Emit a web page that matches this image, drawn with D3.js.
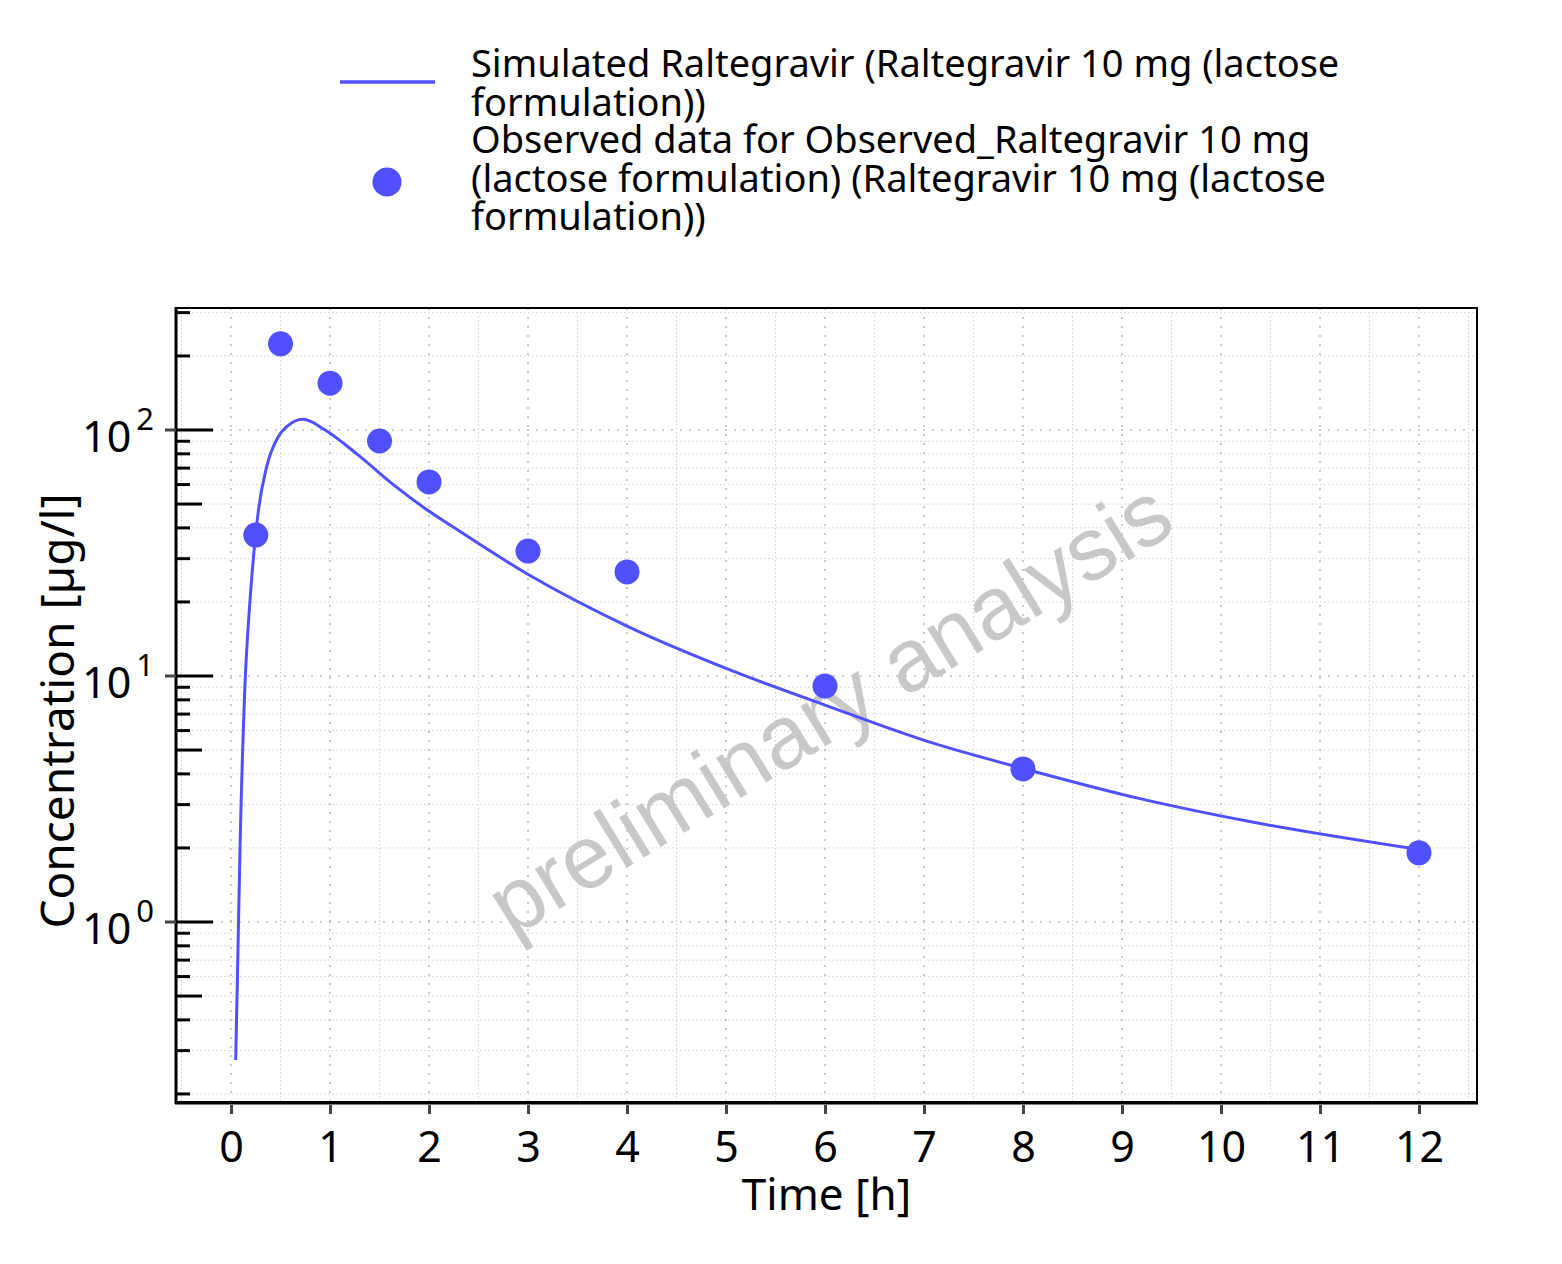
<!DOCTYPE html>
<html><head><meta charset="utf-8">
<script src="https://cdn.jsdelivr.net/npm/d3@7"></script>
<style>body{margin:0;background:#fff} text{font-family:"Noto Sans",sans-serif}</style>
</head><body>
<svg id="c" width="1562" height="1264"></svg>
<script>
// Simulated curve
const simTime = [0.047,0.064,0.091,0.14,0.192,0.25,0.276,0.36,0.478,0.6,0.73,0.95,1.286,1.623,1.96,2.212,2.985,4.016,5.046,6.0,7.1,7.99,9.17,10.29,12];
const simConc = [0.275,0.58,2.02,9,20.4,38,47,71,94,106,110.5,100,79,60.7,48,41.1,26.1,15.85,10.57,7.62,5.32,4.22,3.18,2.56,1.97];
// Observed data
const obsTime = [0.25,0.5,1,1.5,2,3,4,6,8,12];
const obsConc = [37.4,224,155,90.2,61.5,32.2,26.5,9.1,4.19,1.91];
const xTicks = [0,1,2,3,4,5,6,7,8,9,10,11,12];
const yMajor = [1,10,100];
const yExp = ["0","1","2"];
const legendSim = ["Simulated Raltegravir (Raltegravir 10 mg (lactose","formulation))"];
const legendObs = ["Observed data for Observed_Raltegravir 10 mg","(lactose formulation) (Raltegravir 10 mg (lactose","formulation))"];
const xLabel = "Time [h]";
const yLabel = "Concentration [µg/l]";
const watermark = "preliminary analysis";

const color = "#5050ff";
const L=176, R=1477, T=308, B=1102;
const svg = d3.select("#c");
const x = d3.scaleLinear().domain([-0.556,12.586]).range([L,R]);
const y = d3.scaleLog().domain([Math.pow(10,-0.7317),Math.pow(10,2.4959)]).range([B,T]);

// minor values
const yMinor = [];
for (let e=-1;e<=2;e++) for (let m=2;m<=9;m++){const v=m*Math.pow(10,e); if(v>=y.domain()[0]&&v<=y.domain()[1]) yMinor.push(v);}
const xMinor = d3.range(-0.5,12.6,1).filter(v=>v>=x.domain()[0]);

const g = svg.append("g");
// grid minor
g.selectAll(".ymg").data(yMinor).enter().append("line")
 .attr("x1",L).attr("x2",R).attr("y1",d=>y(d)).attr("y2",d=>y(d))
 .attr("stroke","#cfcfcf").attr("stroke-width",1).attr("stroke-dasharray","1.5,2.5");
g.selectAll(".xmg").data(xMinor).enter().append("line")
 .attr("y1",T).attr("y2",B).attr("x1",d=>x(d)).attr("x2",d=>x(d))
 .attr("stroke","#cfcfcf").attr("stroke-width",1).attr("stroke-dasharray","1.5,2.5");
// grid major
g.selectAll(".yMg").data(yMajor).enter().append("line")
 .attr("x1",L).attr("x2",R).attr("y1",d=>y(d)).attr("y2",d=>y(d))
 .attr("stroke","#bdbdbd").attr("stroke-width",1.6).attr("stroke-dasharray","2,7");
g.selectAll(".xMg").data(xTicks).enter().append("line")
 .attr("y1",T).attr("y2",B).attr("x1",d=>x(d)).attr("x2",d=>x(d))
 .attr("stroke","#bdbdbd").attr("stroke-width",1.6).attr("stroke-dasharray","2,7");

// watermark
svg.append("text").attr("transform","translate(833,714) rotate(-31.5)")
 .attr("text-anchor","middle").attr("dominant-baseline","middle")
 .style("font-family","'Liberation Sans',Arial,sans-serif").style("font-size","89px")
 .attr("fill","#c8c8c8").text(watermark);

// simulated line
const simData = simTime.map((t,i)=>[t,simConc[i]]);
svg.append("path").datum(simData)
 .attr("d", d3.line().x(d=>x(d[0])).y(d=>y(d[1])).curve(d3.curveMonotoneX))
 .attr("fill","none").attr("stroke",color).attr("stroke-width",3);

// observed
svg.selectAll(".obs").data(obsTime.map((t,i)=>[t,obsConc[i]])).enter().append("circle")
 .attr("cx",d=>x(d[0])).attr("cy",d=>y(d[1])).attr("r",12.5).attr("fill",color);

// frame
svg.append("rect").attr("x",L).attr("y",T).attr("width",R-L).attr("height",B-T)
 .attr("fill","none").attr("stroke","#000").attr("stroke-width",2);
svg.append("line").attr("x1",L).attr("x2",L).attr("y1",T-1).attr("y2",B+2).attr("stroke","#000").attr("stroke-width",3);
svg.append("line").attr("x1",L-1).attr("x2",R+1).attr("y1",B+1).attr("y2",B+1).attr("stroke","#000").attr("stroke-width",3);

// x axis ticks & labels
const xAxis = d3.axisBottom(x).tickValues(xTicks).tickSize(9).tickFormat(d3.format("d"));
const xa = svg.append("g").attr("transform",`translate(0,${B+3})`).call(xAxis);
xa.select(".domain").remove();
xa.selectAll(".tick line").attr("stroke","#444").attr("stroke-width",3);
xa.selectAll(".tick text").attr("fill","#000").style("font-size","43px").style("font-family","'Noto Sans',sans-serif").attr("y",57).attr("dy",0);

// y axis: outer major ticks gray, inner ticks black
const ya = svg.append("g");
ya.selectAll(".yo").data(yMajor).enter().append("line")
 .attr("x1",L-11).attr("x2",L).attr("y1",d=>y(d)).attr("y2",d=>y(d)).attr("stroke","#444").attr("stroke-width",3);
ya.selectAll(".yi").data(yMajor).enter().append("line")
 .attr("x1",L).attr("x2",L+37).attr("y1",d=>y(d)).attr("y2",d=>y(d)).attr("stroke","#000").attr("stroke-width",3);
ya.selectAll(".ym").data(yMinor).enter().append("line")
 .attr("x1",L).attr("x2",d=>L+(Math.round(d/Math.pow(10,Math.floor(Math.log10(d)+1e-9)))===5?26:14))
 .attr("y1",d=>y(d)).attr("y2",d=>y(d)).attr("stroke","#000").attr("stroke-width",3);
const yl = ya.selectAll(".yl").data(yMajor).enter().append("text")
 .attr("x",154).attr("y",d=>y(d)+22).attr("text-anchor","end").attr("fill","#000")
 .style("font-size","43px");
yl.append("tspan").text("10");
yl.append("tspan").attr("dy",-22).attr("dx",5).style("font-size","31px").text((d,i)=>yExp[i]);

// axis titles
svg.append("text").attr("x",(L+R)/2).attr("y",1210).attr("text-anchor","middle")
 .style("font-size","44px").attr("fill","#000").text(xLabel);
svg.append("text").attr("transform",`translate(74,${(T+B)/2+6}) rotate(-90)`).attr("text-anchor","middle")
 .style("font-size","46px").attr("fill","#000").text(yLabel);

// legend
svg.append("line").attr("x1",340).attr("x2",435).attr("y1",82).attr("y2",82).attr("stroke",color).attr("stroke-width",3.5);
svg.append("circle").attr("cx",387).attr("cy",182).attr("r",14.5).attr("fill",color);
const lt = svg.append("g").style("font-size","38px").attr("fill","#000");
legendSim.forEach((s,i)=>lt.append("text").attr("x",471).attr("y",77+i*38.5).text(s));
legendObs.forEach((s,i)=>lt.append("text").attr("x",471).attr("y",153+i*38.5).text(s));
</script>
</body></html>
